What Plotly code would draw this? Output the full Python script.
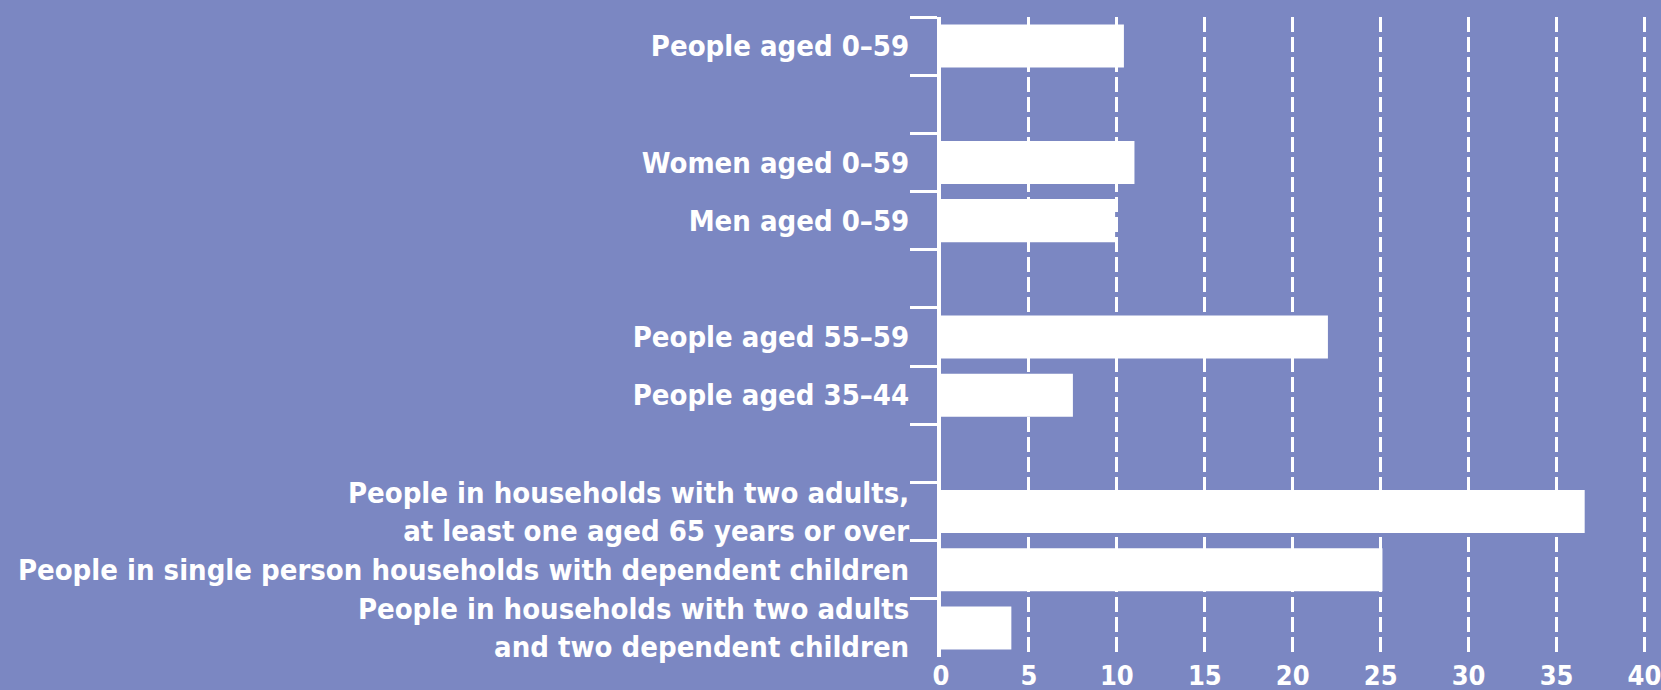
import plotly.graph_objects as go

# Data: groups of categories (gaps between groups), values in %
group1_labels = ["People aged 0–59"]
group1_values = [10.4]
group2_labels = ["Women aged 0–59", "Men aged 0–59"]
group2_values = [11.0, 9.9]
group3_labels = ["People aged 55–59", "People aged 35–44"]
group3_values = [22.0, 7.5]
group4_labels = [
    "People in households with two adults,<br>at least one aged 65 years or over",
    "People in single person households with dependent children",
    "People in households with two adults<br>and two dependent children",
]
group4_values = [36.6, 25.1, 4.0]
x_tick_values = [0, 5, 10, 15, 20, 25, 30, 35, 40]

groups = [
    (group1_labels, group1_values),
    (group2_labels, group2_values),
    (group3_labels, group3_values),
    (group4_labels, group4_values),
]

labels, values, order = [], [], []
for gi, (labs, vals) in enumerate(groups):
    if gi > 0:
        order.append(" " * gi)  # spacer category between groups
    labels += labs
    values += vals
    order += labs

BG = "#7B87C2"
FONT = "Liberation Sans Narrow, DejaVu Sans Condensed, Arial Narrow, sans-serif"

fig = go.Figure(
    go.Bar(
        x=values,
        y=labels,
        orientation="h",
        marker=dict(color="white", line=dict(width=0)),
        hoverinfo="skip",
    )
)

fig.update_layout(
    width=1661,
    height=690,
    paper_bgcolor=BG,
    plot_bgcolor=BG,
    margin=dict(l=941, r=13, t=17, b=33, autoexpand=False),
    bargap=0.26,
    showlegend=False,
    font=dict(family=FONT, color="white", size=30, weight="bold"),
)

fig.update_xaxes(
    range=[0, 40.2],
    tickvals=x_tick_values,
    ticktext=[str(v) for v in x_tick_values],
    showgrid=True,
    gridcolor="white",
    gridwidth=3,
    griddash="15px,5px",
    zeroline=False,
    showline=False,
    ticks="",
    automargin=False,
    ticklabeloverflow="allow",
    tickfont=dict(size=27, family=FONT, color="white", weight="bold"),
)

fig.update_yaxes(
    type="category",
    categoryorder="array",
    categoryarray=order,
    autorange="reversed",
    tickson="boundaries",
    ticks="outside",
    ticklen=27,
    tickwidth=3,
    tickcolor="white",
    showline=True,
    linecolor="white",
    linewidth=4,
    showgrid=False,
    automargin=False,
    ticklabelstandoff=22,
    tickfont=dict(size=29, family=FONT, color="white", weight="bold"),
)

fig.write_html(
    "out.html",
    config={"displayModeBar": False, "staticPlot": True},
    post_script="document.body.style.margin='0';document.body.style.padding='0';",
)
